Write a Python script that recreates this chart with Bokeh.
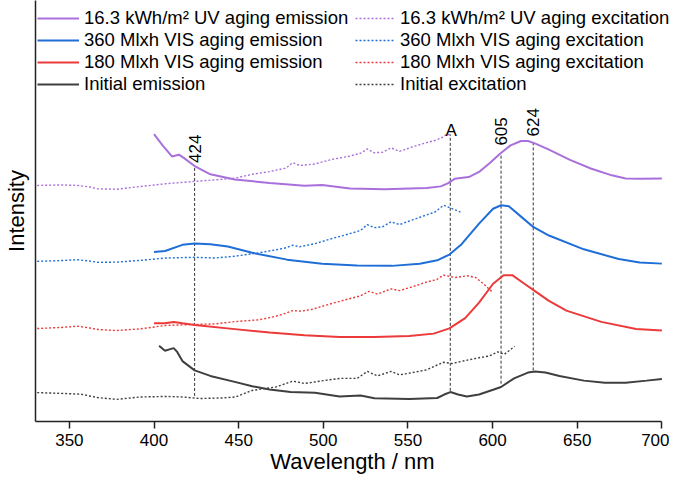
import numpy as np
from bokeh.plotting import figure
from bokeh.models import Range1d, FixedTicker, Legend, LegendItem
from bokeh.core.properties import value
from bokeh.embed import file_html
from bokeh.resources import INLINE

# ---------------- data (wavelength in nm, intensity in arbitrary offset units) ----------------
em_uv_x = [400, 405.4, 410.6, 414.7, 417.8, 424, 433.3, 447.7, 468.3, 488.9, 499.3, 515.8, 536.4, 561.1,
           569.4, 573.5, 577.6, 585.9, 592.0, 598.2, 604.4, 610.6, 616.8, 620.9, 625.0, 633.3, 645.7,
           658.0, 670.4, 678.6, 686.9, 700]
em_uv_y = [283.3, 271.5, 261.4, 263.1, 259.7, 252, 243.9, 238.8, 235.5, 232.8, 233.5, 230.1, 229.4, 230.4,
           232.1, 235.1, 239.5, 241.2, 246.2, 254.7, 264.1, 272.2, 276.5, 276.5, 274.2, 268.1, 258.0,
           249.6, 242.9, 239.8, 239.5, 239.7]

ex_uv_x = [331, 345, 355, 362, 367, 378, 392, 407, 424, 436, 448, 458, 468, 478, 482, 486, 495, 505, 515,
           522, 526, 530, 535, 540, 545, 553, 561, 566, 570, 573, 576]
ex_uv_y = [233, 233.5, 233, 231.5, 229.7, 229.3, 232, 234.7, 237, 238.5, 240.2, 243.9, 246.5, 250, 255.3,
           252.5, 254, 258.5, 261.5, 264.5, 268.8, 265, 265.5, 269.8, 266.4, 271, 274.9, 277, 279.7, 283.3, 281.6]

em_360_x = [400, 406.5, 416.8, 424, 433.3, 443.6, 458, 478.6, 499.3, 519.9, 540.5, 557, 567.3, 574.5, 581.7,
            592, 600.3, 605, 609.6, 616.8, 624, 633.3, 653.9, 674.5, 686.9, 700]
em_360_y = [167.8, 168.8, 174.9, 176.2, 175.5, 173.2, 167.1, 160.4, 156.3, 154.7, 154.3, 156.3, 159.7, 165.4,
            175.5, 195.7, 210.2, 213.6, 212.6, 202.5, 192.4, 184, 170.5, 161, 157.5, 156.5]

ex_360_x = [331, 345, 355, 362, 367, 378, 392, 407, 424, 436, 448, 462, 472, 478, 482, 486, 495, 505, 515,
            522, 526, 530, 535, 540, 545, 553, 561, 566, 571, 575, 581]
ex_360_y = [158.7, 159.5, 160.3, 159, 157.7, 158, 159.7, 162, 162.7, 162, 163.8, 167.1, 170, 172, 174.5, 173,
            176, 181, 185.5, 189, 194.7, 191.7, 192.5, 197.4, 194.7, 199.5, 204.2, 207, 213.6, 210.9, 206.9]

em_180_x = [400, 406.5, 411.6, 416.8, 424, 447.7, 468.3, 488.9, 509.6, 530.2, 550.8, 565.2, 574.5, 583.8,
            592, 600.3, 606.5, 611.6, 618.8, 624, 633.3, 643.6, 664.2, 684.8, 700]
em_180_y = [98.1, 98.1, 99.4, 98.1, 96.4, 92.4, 89, 86.3, 84.6, 84.6, 85.6, 88, 93.1, 103.1,
            118.3, 136.8, 145.2, 145.2, 136.8, 130.8, 120, 110.5, 99.5, 92.5, 91]

ex_180_x = [331, 345, 355, 362, 367, 378, 392, 407, 424, 436, 448, 462, 472, 478, 482, 487, 493, 505, 515,
            522, 527, 532, 540, 545, 553, 561, 567, 571, 578, 585, 590, 595, 600]
ex_180_y = [93, 94, 95.3, 93.5, 92, 91, 92.7, 96, 97, 97.5, 99.8, 101.5, 105, 108, 110.6, 110, 111.6, 117.5,
            122, 125, 129.4, 126.7, 131.8, 130.1, 134, 138.5, 140.9, 145.2, 142.9, 144.6, 142.9, 136.2, 128.4]

em_init_x = [403, 406.5, 409.6, 411.6, 413.7, 416.8, 424, 433.3, 447.7, 458, 468.3, 480.7, 495.1, 509.6, 522,
             530.2, 550.8, 567.3, 571.4, 575.1, 579.6, 584.8, 592, 600.3, 605, 612.7, 620.9, 625, 631.2,
             639.5, 653.9, 666.3, 678.6, 691, 700]
em_init_y = [76.2, 71.2, 72.8, 73.8, 70.1, 61.1, 52, 46.6, 40.8, 36.5, 33.4, 30.8, 30.1, 26.4, 27.4,
             24.7, 24, 25, 28.4, 30.8, 28.4, 26.4, 28.4, 33.1, 35.8, 44.2, 49.9, 51, 49.9,
             46.5, 42, 40, 40, 42, 43.5]

ex_init_x = [331, 345, 357, 362, 367, 378, 392, 407, 417, 427, 440, 448, 458, 472, 482, 489, 500, 510, 520,
             526, 532, 540, 545, 553, 561, 571, 576, 582, 592, 598, 603, 607, 613]
ex_init_y = [30.3, 29.5, 28.7, 27, 25.3, 23.7, 26, 26.5, 26, 24.5, 25, 26, 32.4, 35.8, 41.5, 39.2, 42, 44.2,
             44.2, 51, 46.6, 51, 47.6, 50, 52.6, 60, 58.7, 61, 64.4, 66.1, 70.1, 67.8, 75.5]

ann_x = [424, 575, 605, 624]
ann_bottom = [27, 32, 39, 52]
ann_top = [252, 283, 263, 277]
rot_label_x = [424, 605, 624]
rot_label_y = [255, 272, 281]
rot_labels = ["424", "605", "624"]
a_label_x = [575.5]
a_label_y = [287]
a_label = ["A"]

x_ticks = [350, 400, 450, 500, 550, 600, 650, 700]

labels_em = ["16.3 kWh/m\u00b2 UV aging emission", "360 Mlxh VIS aging emission",
             "180 Mlxh VIS aging emission", "Initial emission"]
labels_ex = ["16.3 kWh/m\u00b2 UV aging excitation", "360 Mlxh VIS aging excitation",
             "180 Mlxh VIS aging excitation", "Initial excitation"]

C_UV = "#A970DC"
C_360 = "#1F6ED8"
C_180 = "#EC3A3A"
C_INIT = "#3F3F3F"
FONT = "Liberation Sans"

p = figure(width=669, height=476, output_backend="svg", toolbar_location=None,
           x_range=Range1d(330, 704.5), y_range=Range1d(2, 414),
           min_border_left=26, min_border_right=0, min_border_top=0, min_border_bottom=0)
p.outline_line_color = None
p.xgrid.visible = False
p.ygrid.visible = False

# annotation dashed lines
p.segment(x0=ann_x, y0=ann_bottom, x1=ann_x, y1=ann_top, line_color="#333333",
          line_width=1, line_dash="3 2")

em_series = [(em_uv_x, em_uv_y, C_UV), (em_360_x, em_360_y, C_360),
             (em_180_x, em_180_y, C_180), (em_init_x, em_init_y, C_INIT)]
ex_series = [(ex_uv_x, ex_uv_y, C_UV), (ex_360_x, ex_360_y, C_360),
             (ex_180_x, ex_180_y, C_180), (ex_init_x, ex_init_y, C_INIT)]

ex_r = []
for xs, ys, c in ex_series:
    ex_r.append(p.line(xs, ys, line_color=c, line_width=1.4, line_dash="2 2"))
em_r = []
for xs, ys, c in em_series:
    em_r.append(p.line(xs, ys, line_color=c, line_width=2))

p.text(x=rot_label_x, y=rot_label_y, text=rot_labels, angle=np.pi / 2, text_align="left",
       text_baseline="middle", text_font=value(FONT), text_font_size="17px", text_color="black")
p.text(x=a_label_x, y=a_label_y, text=a_label, text_align="center", text_baseline="alphabetic",
       text_font=value(FONT), text_font_size="17px", text_color="black")

# axes
p.xaxis.bounds = (330, 700)
p.xaxis.ticker = FixedTicker(ticks=x_ticks)
p.xaxis.minor_tick_line_color = None
p.xaxis.major_tick_out = 7
p.xaxis.major_tick_in = 0
p.xaxis.major_tick_line_width = 1.5
p.xaxis.major_tick_line_color = "#222222"
p.xaxis.axis_line_width = 1.5
p.xaxis.axis_line_color = "#222222"
p.xaxis.major_label_text_font = FONT
p.xaxis.major_label_text_font_size = "17px"
p.xaxis.major_label_text_color = "black"
p.xaxis.major_label_standoff = 5
p.xaxis.axis_label = "Wavelength / nm"
p.xaxis.axis_label_text_font = FONT
p.xaxis.axis_label_text_font_size = "22px"
p.xaxis.axis_label_text_font_style = "normal"
p.xaxis.axis_label_text_color = "black"
p.xaxis.axis_label_standoff = 0

p.yaxis.ticker = FixedTicker(ticks=[])
p.yaxis.minor_tick_line_color = None
p.yaxis.major_tick_out = 0
p.yaxis.major_tick_in = 0
p.yaxis.major_label_standoff = 0
p.yaxis.axis_line_width = 1.5
p.yaxis.axis_line_color = "#222222"
p.yaxis.axis_label = "Intensity"
p.yaxis.axis_label_text_font = FONT
p.yaxis.axis_label_text_font_size = "22px"
p.yaxis.axis_label_text_font_style = "normal"
p.yaxis.axis_label_text_color = "black"
p.yaxis.axis_label_standoff = 7

def make_legend(labels, rends, loc, gw):
    lg = Legend(items=[LegendItem(label=l, renderers=[r]) for l, r in zip(labels, rends)],
                location=loc, orientation="vertical", padding=0, spacing=0, margin=0,
                glyph_width=gw, glyph_height=20, label_height=20, label_standoff=5,
                label_text_font=FONT, label_text_font_size="18.5px", label_text_color="black",
                border_line_color=None, background_fill_alpha=0)
    return lg

p.add_layout(make_legend(labels_em, em_r, (2, 326), 42), "center")
p.add_layout(make_legend(labels_ex, ex_r, (320, 326), 40), "center")

open("out.html", "w").write(file_html(p, INLINE))
